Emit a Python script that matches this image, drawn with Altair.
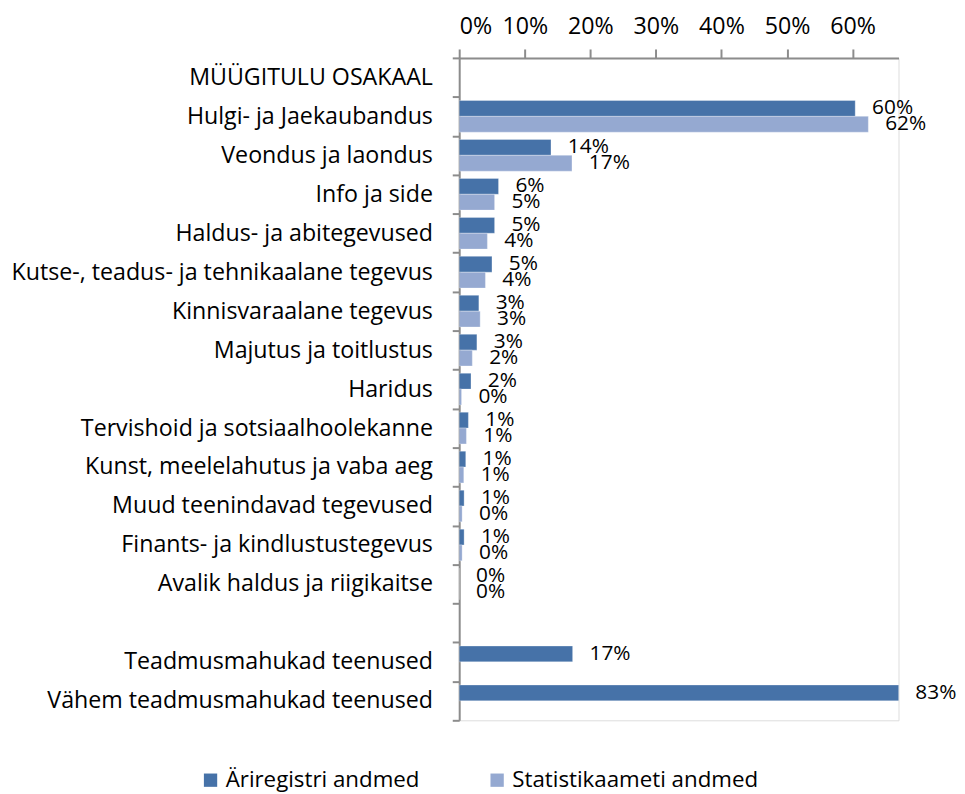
import altair as alt
import pandas as pd

header = "MÜÜGITULU OSAKAAL"
categories = [
    "Hulgi- ja Jaekaubandus",
    "Veondus ja laondus",
    "Info ja side",
    "Haldus- ja abitegevused",
    "Kutse-, teadus- ja tehnikaalane tegevus",
    "Kinnisvaraalane tegevus",
    "Majutus ja toitlustus",
    "Haridus",
    "Tervishoid ja sotsiaalhoolekanne",
    "Kunst, meelelahutus ja vaba aeg",
    "Muud teenindavad tegevused",
    "Finants- ja kindlustustegevus",
    "Avalik haldus ja riigikaitse",
]
arireg = [0.604, 0.140, 0.060, 0.054, 0.050, 0.030, 0.027, 0.018, 0.014, 0.010, 0.0075, 0.0075, 0.0]
statist = [0.624, 0.172, 0.054, 0.043, 0.040, 0.032, 0.020, 0.0036, 0.011, 0.007, 0.0045, 0.0045, 0.0]
blank = " "
knowledge_cats = ["Teadmusmahukad teenused", "Vähem teadmusmahukad teenused"]
knowledge_vals = [0.173, 0.83]

series = ["Äriregistri andmed", "Statistikaameti andmed"]
colors = ["#4672A8", "#95A9D1"]
x_ticks = [0, 0.1, 0.2, 0.3, 0.4, 0.5, 0.6]
x_max = 0.67

rows = []
for c, a, s in zip(categories, arireg, statist):
    rows.append({"cat": c, "series": series[0], "value": a})
    rows.append({"cat": c, "series": series[1], "value": s})
for c, v in zip(knowledge_cats, knowledge_vals):
    rows.append({"cat": c, "series": series[0], "value": v})
df = pd.DataFrame(rows)

order = [header] + categories + [blank] + knowledge_cats
FONT = "Open Sans"
FS = 23.4

y_enc = alt.Y(
    "cat:N",
    sort=order,
    scale=alt.Scale(domain=order, paddingInner=0, paddingOuter=0),
    axis=alt.Axis(
        title=None,
        orient="left",
        tickBand="extent",
        tickSize=7,
        tickColor="#8c8c8c",
        tickWidth=2,
        domainColor="#8c8c8c",
        domainWidth=2,
        labelFontSize=FS,
        labelFont=FONT,
        labelColor="#000000",
        labelPadding=20,
        labelLimit=600,
    ),
)
yoff = alt.YOffset(
    "series:N",
    scale=alt.Scale(domain=series, paddingOuter=0.23, paddingInner=0),
)

base = alt.Chart(df)

bars = base.mark_bar(clip=True, stroke="#ffffff", strokeWidth=0.5, strokeOpacity=0.6).encode(
    y=y_enc,
    yOffset=yoff,
    x=alt.X(
        "value:Q",
        scale=alt.Scale(domain=[0, x_max], nice=False, zero=True),
        axis=alt.Axis(
            title=None,
            orient="top",
            values=x_ticks,
            format=".0%",
            grid=False,
            tickSize=9,
            tickColor="#8c8c8c",
            tickWidth=2,
            domainColor="#8c8c8c",
            domainWidth=2,
            labelFontSize=FS,
            labelFont=FONT,
            labelColor="#000000",
            labelPadding=11,
        ),
    ),
    color=alt.Color(
        "series:N",
        scale=alt.Scale(domain=series, range=colors),
        legend=alt.Legend(
            title=None,
            orient="none",
            direction="horizontal",
            legendX=-262,
            legendY=717,
            symbolType="square",
            symbolSize=180,
            symbolStrokeWidth=0,
            labelFontSize=22.5,
            labelFont=FONT,
            labelColor="#000000",
            labelLimit=400,
            columnPadding=66,
            symbolOffset=0,
        ),
    ),
)

labels = base.transform_calculate(
    pos=f"min(datum.value, {x_max})"
).mark_text(align="left", baseline="middle", dx=17, fontSize=21, font=FONT, color="#000000").encode(
    y=alt.Y("cat:N", sort=order),
    yOffset=alt.YOffset("series:N"),
    x=alt.X("pos:Q"),
    text=alt.Text("value:Q", format=".0%"),
)

chart = (
    alt.layer(bars, labels)
    .properties(width=443, height=668, padding={"left": 2, "top": 3, "right": 0, "bottom": 0})
    .configure_view(stroke=None)
    .configure(background="#ffffff")
)

chart.save("out.html", embed_options={"renderer": "svg", "actions": False})
